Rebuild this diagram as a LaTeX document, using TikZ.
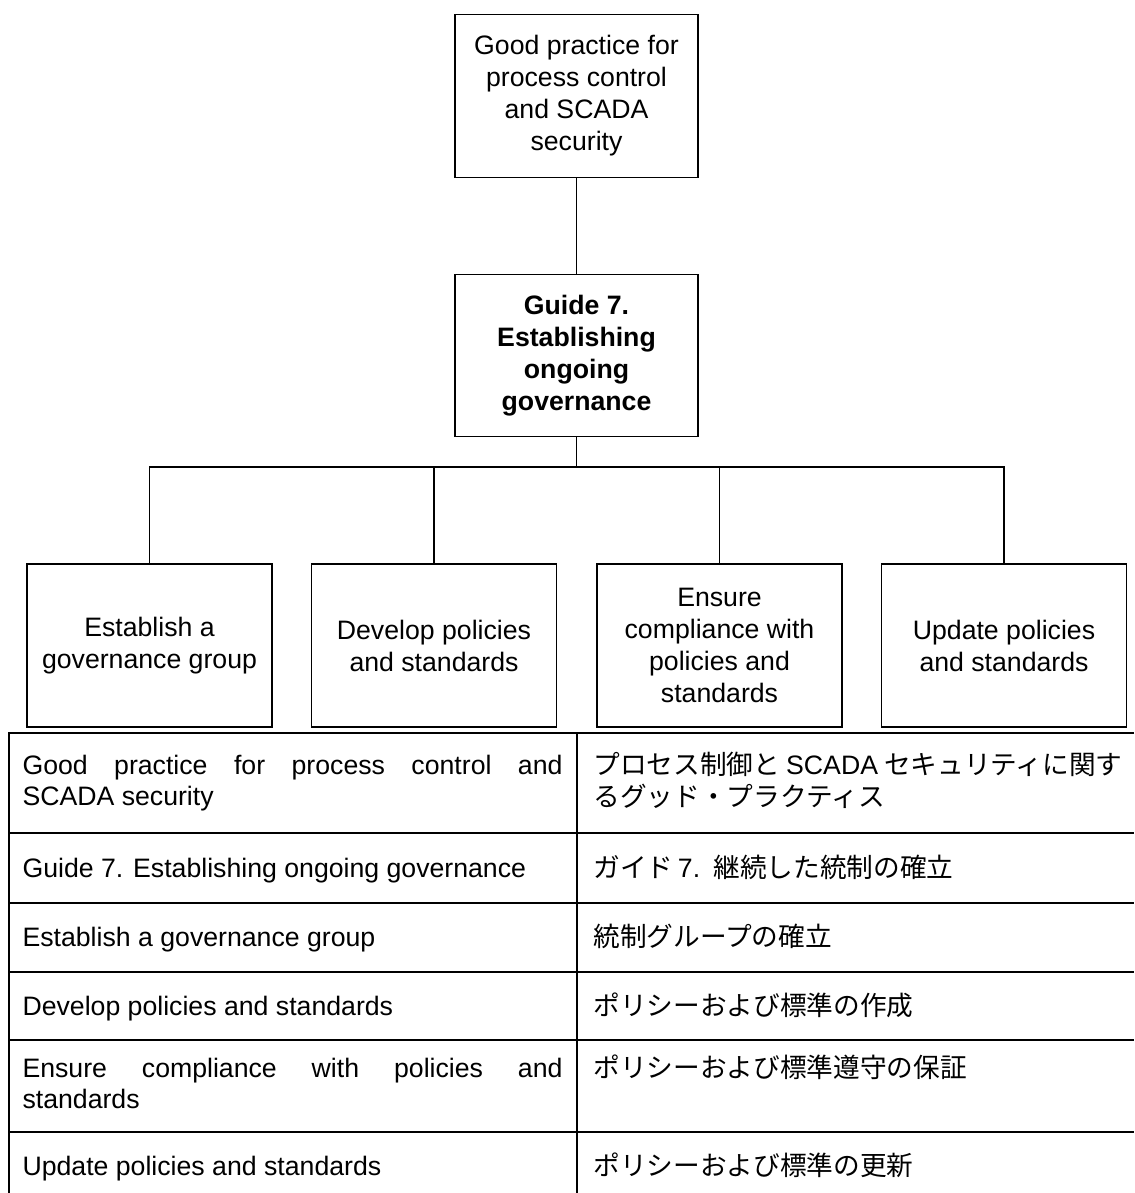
\documentclass[tikz,border=0pt]{standalone}
\usepackage{fontspec}
\setmainfont{Liberation Sans}
\newfontfamily\jp{Noto Sans CJK JP}
\usetikzlibrary{positioning}

\begin{document}
\begin{tikzpicture}[x=0.375pt, y=-0.375pt,
    every node/.style={font=\fontsize{10}{12}\selectfont},
    box/.style={draw, line width=0.5pt, align=center, inner sep=0pt,
        minimum width=91.1pt, minimum height=60.9pt},
    kid/.style={box, minimum width=91.9pt, minimum height=61.1pt},
    cell/.style={anchor=base west, inner sep=0pt},
    jcell/.style={cell, font=\fontsize{10}{12}\jp},
    rule/.style={line width=1pt}]

    \useasboundingbox (0,0) rectangle (1134,1193);

    % chart
    \node[box] (top) at (576.5,96) {Good practice for\\process control\\and SCADA\\security};
    \node[box, font=\fontsize{10}{12}\selectfont\bfseries] (guide) at (576.5,355.5) {Guide 7.\\Establishing\\ongoing\\governance};
    \node[kid] (k1) at (149.5,645.5) {Establish a\\governance group};
    \node[kid] (k2) at (434,645.5) {Develop policies\\and standards};
    \node[kid] (k3) at (719.5,645.5) {Ensure\\compliance with\\policies and\\standards};
    \node[kid] (k4) at (1004,645.5) {Update policies\\and standards};
    \coordinate (bus) at (576.5,467);
    \draw[line width=0.5pt] (top) -- (guide);
    \draw[line width=0.5pt] (guide) -- (bus);
    \foreach \k in {k1,k2,k3,k4}
        \draw[line width=0.5pt] (\k.north) |- (bus);

    % table
    \draw[rule] (1134,733) -- (9,733) -- (9,1193);
    \draw[rule] (577,733) -- (577,1193);
    \foreach \y in {833,903,972,1040,1132}
        \draw[rule] (9,\y) -- (1134,\y);

    \node[cell, anchor=north west, text width=202.5pt, align=justify, font=\fontsize{10}{11.5}\selectfont] (e1) at (22,755)
        {Good practice for process control and\linebreak SCADA security};
    \node[cell] (e2) at (22,877.5) {Guide 7. Establishing ongoing governance};
    \node[cell] (e3) at (22,946.5) {Establish a governance group};
    \node[cell] (e4) at (22,1015.5) {Develop policies and standards};
    \node[cell, anchor=north west, text width=202.5pt, align=justify, font=\fontsize{10}{11.5}\selectfont] (e5) at (22,1058)
        {Ensure compliance with policies and\linebreak standards};
    \node[cell] (e6) at (22,1175.5) {Update policies and standards};

    \node[jcell, anchor=north west, align=left] (j1) at (593,752)
        {プロセス制御と {\normalfont SCADA} セキュリティに関す\\るグッド・プラクティス};
    \node[jcell] (j2) at (593,877.5) {ガイド\,{\normalfont 7.}\enspace 継続した統制の確立};
    \node[jcell] (j3) at (593,946.5) {統制グループの確立};
    \node[jcell] (j4) at (593,1015.5) {ポリシーおよび標準の作成};
    \node[jcell] (j5) at (593,1077.5) {ポリシーおよび標準遵守の保証};
    \node[jcell] (j6) at (593,1175.5) {ポリシーおよび標準の更新};
\end{tikzpicture}
\end{document}
